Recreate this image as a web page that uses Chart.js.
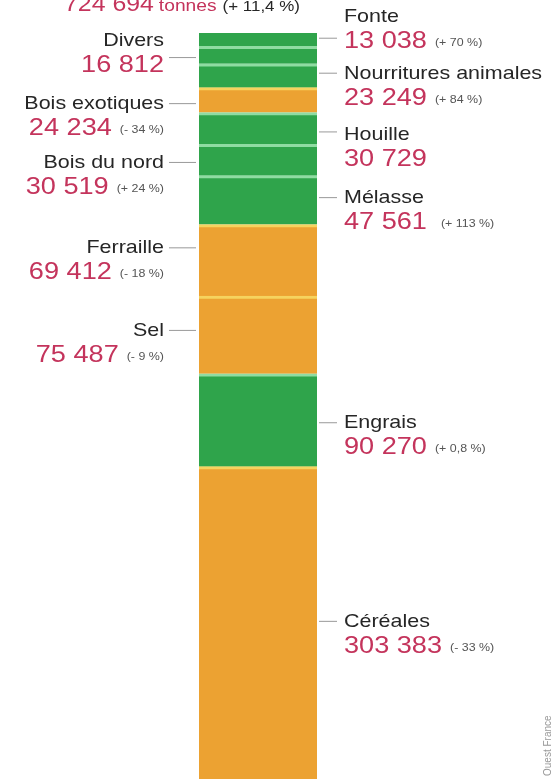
<!DOCTYPE html>
<html>
<head>
<meta charset="utf-8">
<script src="https://cdn.jsdelivr.net/npm/chart.js@4"></script>
<style>
  body { margin: 0; background: #fff; }
  #wrap { width: 557px; height: 779px; position: relative; }
</style>
</head>
<body>
<div id="wrap"><canvas id="chart"></canvas></div>
<script>
// top to bottom, as in the picture
const cargo = ['Fonte', 'Divers', 'Nourritures animales', 'Bois exotiques', 'Houille', 'Bois du nord',
               'Mélasse', 'Ferraille', 'Sel', 'Engrais', 'Céréales'];
const tonnes = [13038, 16812, 23249, 24234, 30729, 30519, 47561, 69412, 75487, 90270, 303383];
const change = ['+ 70 %', '', '+ 84 %', '- 34 %', '', '+ 24 %', '+ 113 %', '- 18 %', '- 9 %', '+ 0,8 %', '- 33 %'];
const kind = ['v', 'v', 'v', 'o', 'v', 'v', 'v', 'o', 'o', 'v', 'o'];
const side = ['R', 'L', 'R', 'L', 'R', 'L', 'R', 'L', 'L', 'R', 'R'];
const totalText = '724 694';
const totalChange = '(+ 11,4 %)';

// small layout tweaks (px) for leader and label rows
const leaderNudge = [-2, 2, -3, 3, 3, 2, -3, -13, -5, 2, -2];
const nameNudge = [-22, -17, 0, 0, 3, 0, 0, 0, 0, 0, 0];

const green = '#2fa44b', orange = '#eca232';
const greenLine = '#8fdca2', orangeLine = '#f6d35e';
const crimson = '#c4345c', grey = '#262626', small = '#555';
const FONT = '"Liberation Sans", Arial, sans-serif';
const STRETCH = 1.13;

const fmt = n => n.toLocaleString('fr-FR').replace(/\s/g, ' ');

// stacked from the bottom: reverse order
const datasets = cargo.map((name, i) => ({
  label: name,
  data: [tonnes[i]],
  backgroundColor: kind[i] === 'v' ? green : orange,
  borderColor: kind[i] === 'v' ? greenLine : orangeLine,
  borderWidth: { top: i === 0 ? 0 : 3, bottom: 0, left: 0, right: 0 },
  borderSkipped: false,
  barPercentage: 1,
  categoryPercentage: 1
})).reverse();

function txt(ctx, s, x, y, font, color, align) {
  ctx.save();
  ctx.font = font;
  ctx.fillStyle = color;
  ctx.textBaseline = 'alphabetic';
  const w = ctx.measureText(s).width * STRETCH;
  const x0 = align === 'right' ? x - w : x;
  ctx.translate(x0, y);
  ctx.scale(STRETCH, 1);
  ctx.textAlign = 'left';
  ctx.fillText(s, 0, 0);
  ctx.restore();
  return w;
}

const labels = {
  id: 'labels',
  afterDatasetsDraw(chart) {
    const { ctx, scales: { y }, chartArea: a } = chart;
    const acc = tonnes.reduce((s, v) => s + v, 0);
    let from = 0;
    cargo.forEach((name, i) => {
      const y0 = y.getPixelForValue(acc - from);
      const y1 = y.getPixelForValue(acc - from - tonnes[i]);
      from += tonnes[i];
      const ly = (y0 + y1) / 2 + leaderNudge[i];
      const ny = ly + nameNudge[i] + 6;
      const vy = ny + 26;
      ctx.save();
      ctx.strokeStyle = '#999';
      ctx.lineWidth = 1;
      ctx.beginPath();
      if (side[i] === 'R') {
        ctx.moveTo(a.right + 2, ly + 0.5); ctx.lineTo(a.right + 20, ly + 0.5);
      } else {
        ctx.moveTo(a.left - 30, ly + 0.5); ctx.lineTo(a.left - 3, ly + 0.5);
      }
      ctx.stroke();
      ctx.restore();
      const nameFont = '19px ' + FONT, valFont = '24px ' + FONT, pFont = '11px ' + FONT;
      if (side[i] === 'R') {
        const x = a.right + 27;
        txt(ctx, name, x, ny, nameFont, grey, 'left');
        const w = txt(ctx, fmt(tonnes[i]), x, vy, valFont, crimson, 'left');
        if (change[i]) txt(ctx, '(' + change[i] + ')', x + w + (name === 'Mélasse' ? 14 : 8), vy - 2, pFont, small, 'left');
      } else {
        const x = a.left - 35;
        txt(ctx, name, x, ny, nameFont, grey, 'right');
        let px = x;
        if (change[i]) px -= txt(ctx, '(' + change[i] + ')', x, vy - 2, pFont, small, 'right') + 8;
        txt(ctx, fmt(tonnes[i]), px, vy, valFont, crimson, 'right');
      }
    });
    // total at the top, partly cut
    let x = 64;
    x += txt(ctx, totalText, x, 11, '22px ' + FONT, crimson, 'left') + 5;
    x += txt(ctx, 'tonnes', x, 11, '17px ' + FONT, crimson, 'left') + 6;
    txt(ctx, totalChange, x, 11, '15px ' + FONT, grey, 'left');
    // credit
    ctx.save();
    ctx.translate(551, 776);
    ctx.rotate(-Math.PI / 2);
    ctx.font = '10px ' + FONT;
    ctx.fillStyle = '#999';
    ctx.fillText('Ouest France', 0, 0);
    ctx.restore();
  }
};

new Chart(document.getElementById('chart'), {
  type: 'bar',
  data: { labels: [''], datasets },
  options: {
    responsive: true,
    maintainAspectRatio: false,
    animation: false,
    layout: { padding: { top: 33, bottom: 0, left: 199, right: 240 } },
    plugins: { legend: { display: false }, tooltip: { enabled: false } },
    scales: {
      x: { stacked: true, display: false },
      y: { stacked: true, display: false, min: 0, max: tonnes.reduce((s, v) => s + v, 0) }
    }
  },
  plugins: [labels]
});
</script>
</body>
</html>
